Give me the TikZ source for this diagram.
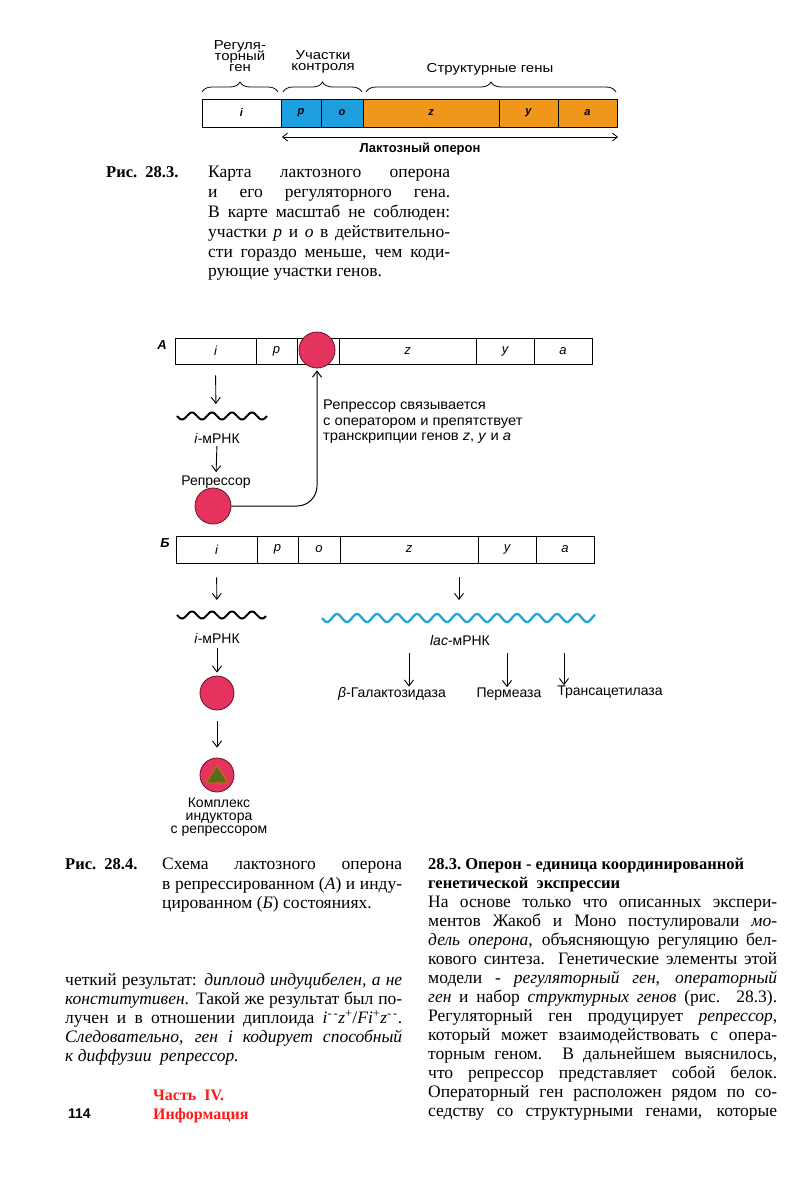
\documentclass[tikz,border=0pt]{standalone}
\usepackage{fontspec}
\setmainfont{Liberation Serif}
\setsansfont{Liberation Sans}
\newfontfamily\widesans[FakeStretch=1.05]{Liberation Sans}
\newfontfamily\midsans[FakeStretch=1.15]{Liberation Sans}
\usetikzlibrary{arrows.meta,decorations.pathreplacing}
\definecolor{opblue}{HTML}{1E9FE0}
\definecolor{oporange}{HTML}{F0961A}
\definecolor{repred}{HTML}{E4335F}
\definecolor{repedge}{HTML}{6A1025}
\definecolor{wblue}{HTML}{1EA5DC}
\definecolor{tgreen}{HTML}{566B1E}
\definecolor{tedge}{HTML}{C8641E}
\definecolor{partred}{HTML}{FF1A1A}
\newcommand\fsz[2]{\fontsize{#1}{#2}\selectfont}
\newcommand\jline[2]{\makebox[#1][s]{#2}}
\begin{document}
\begin{tikzpicture}[x=1pt,y=-1pt,
 seg/.style={draw=black,line width=0.9pt,inner sep=0pt,minimum height=#1},
 tlab/.style={font=\sffamily\bfseries\itshape\fsz{11}{12}},
 blab/.style={font=\sffamily\itshape\fsz{13}{15}},
 sfl/.style={font=\sffamily\fsz{14}{15},inner sep=0pt,anchor=base},
 sflw/.style={font=\widesans\fsz{14}{15},inner sep=0pt,anchor=base west},
 toplab/.style={font=\midsans\fsz{13}{12},inner sep=0pt,anchor=base},
 body/.style={font=\fsz{17.5}{19},inner sep=0pt,anchor=base west},
 bodyb/.style={font=\bfseries\fsz{16.5}{19},inner sep=0pt,anchor=base west},
 redc/.style={circle,draw=repedge,line width=0.8pt,fill=repred,minimum size=#1,inner sep=0pt},
 arr/.style={line width=0.9pt,-{Straight Barb[length=6pt,width=9pt]}},
 wave/.style={line width=2pt},
 brc/.style={decorate,decoration={brace,amplitude=10pt},line width=0.8pt},
]
\fill[white] (0,0) rectangle (803,1200);
\useasboundingbox (0,0) rectangle (803,1200);

% ---------- Fig 28.3 ----------
\node[toplab] (r1) at (240,49) {Регуля-};
\node[toplab] (r2) at (240,60) {торный};
\node[toplab] (r3) at (240,71) {ген};
\node[toplab] (u1) at (323,59) {Участки};
\node[toplab] (u2) at (323,70) {контроля};
\node[toplab] (s1) at (490,72) {Структурные гены};

\coordinate (b1l) at (202,92); \coordinate (b1r) at (278,92);
\coordinate (b2l) at (283,92); \coordinate (b2r) at (362,92);
\coordinate (b3l) at (366,92); \coordinate (b3r) at (616,92);
\draw[brc] (b1l) -- (b1r);
\draw[brc] (b2l) -- (b2r);
\draw[brc] (b3l) -- (b3r);

\node[seg=28,tlab,minimum width=79,fill=white] (ti) at (241.5,113) {i};
\node[seg=28,tlab,minimum width=40,fill=opblue] (tp) at (301,113) {p};
\node[seg=28,tlab,minimum width=42,fill=opblue] (to) at (342,113) {o};
\node[seg=28,tlab,minimum width=136,fill=oporange] (tz) at (431,113) {z};
\node[seg=28,tlab,minimum width=59,fill=oporange] (ty) at (528.5,113) {y};
\node[seg=28,tlab,minimum width=59,fill=oporange] (ta) at (587.5,113) {a};

\coordinate (la) at (282,137); \coordinate (lb) at (618,137);
\draw[line width=0.8pt,{Straight Barb[length=5pt,width=8pt]}-{Straight Barb[length=5pt,width=8pt]}] (la) -- (lb);
\node[font=\sffamily\bfseries\fsz{13}{14},inner sep=0pt,anchor=base] (lo) at (420,152.5) {Лактозный оперон};

\node[bodyb] (f3) at (106,177.5) {Рис.\ \ 28.3.};
\node[body] (c1) at (208,177.5) {\jline{242pt}{Карта лактозного оперона}};
\node[body] (c2) at (208,197.5) {\jline{242pt}{и его регуляторного гена.}};
\node[body] (c3) at (208,217.5) {\jline{242pt}{В карте масштаб не соблюден:}};
\node[body] (c4) at (208,237.5) {\jline{242pt}{участки \textit{p} и \textit{o} в действительно-}};
\node[body] (c5) at (208,257.5) {\jline{242pt}{сти гораздо меньше, чем коди-}};
\node[body] (c6) at (208,276.5) {рующие участки генов.};

% ---------- Fig 28.4 A ----------
\node[font=\sffamily\bfseries\itshape\fsz{13}{14},inner sep=0pt] (lA) at (162,345) {А};
\node[seg=26,blab,minimum width=81] (iA) at (215.5,351) {i};
\node[seg=26,blab,minimum width=41] (pA) at (276.5,351) {p};
\node[seg=26,blab,minimum width=42] (oA) at (318,351) {};
\node[seg=26,blab,minimum width=137] (zA) at (407.5,351) {z};
\node[seg=26,blab,minimum width=58] (yA) at (505,351) {y};
\node[seg=26,blab,minimum width=58] (aA) at (563,351) {a};
\node[redc=36] (opA) at (317,350) {};

\coordinate (wA) at (216,416);
\draw[arr,shorten <=11pt,shorten >=12pt] (iA.south) -- (wA);
\draw[wave] plot[domain=177:267,samples=120] (\x,{416+3.5*sin(18*(\x-177))});
\node[sfl] (imA) at (217,443) {\textit{i}-мРНК};
\node[sfl] (repL) at (216,485) {Репрессор};
\draw[arr,shorten <=3pt,shorten >=3pt] (imA.south) -- (repL.north);
\node[redc=36] (rep) at (213,506) {};
\draw[line width=1pt,-{Straight Barb[length=6pt,width=9pt]},rounded corners=20pt,shorten >=2pt] (rep.east) -| (opA.south);
\node[sflw] (ta1) at (323,409.5) {Репрессор связывается};
\node[sflw] (ta2) at (323,425.5) {с оператором и препятствует};
\node[sflw] (ta3) at (323,440.5) {транскрипции генов \textit{z}, \textit{y} и \textit{a}};

% ---------- Fig 28.4 B ----------
\node[font=\sffamily\bfseries\itshape\fsz{13}{14},inner sep=0pt] (lB) at (165,543) {Б};
\node[seg=27,blab,minimum width=81] (iB) at (216.5,549.5) {i};
\node[seg=27,blab,minimum width=41] (pB) at (277.5,549.5) {p};
\node[seg=27,blab,minimum width=42] (oB) at (319,549.5) {o};
\node[seg=27,blab,minimum width=138] (zB) at (409,549.5) {z};
\node[seg=27,blab,minimum width=58] (yB) at (507,549.5) {y};
\node[seg=27,blab,minimum width=58] (aB) at (565,549.5) {a};

\coordinate (wB) at (217,615);
\coordinate (lacw) at (459,618);
\draw[arr,shorten <=14pt,shorten >=15pt] (iB.south) -- (wB);
\draw[arr,shorten <=14pt,shorten >=18pt] (iB.south -| lacw) -- (lacw);
\draw[wave] plot[domain=177:266,samples=120] (\x,{615+3.5*sin(18*(\x-177))});
\draw[wave,wblue,line width=2.3pt] plot[domain=322:595,samples=300] (\x,{618+4*sin(18*(\x-322))});
\node[sfl] (imB) at (217,643) {\textit{i}-мРНК};
\node[sfl] (lacL) at (460,645) {\textit{lac}-мРНК};
\node[redc=34] (indR) at (217,693) {};
\draw[arr,shorten <=5pt,shorten >=3pt] (imB.south) -- (indR.north);
\node[redc=34] (cx) at (217,775) {};
\draw[arr,shorten <=11pt,shorten >=10pt] (indR.south) -- (cx.north);
\draw[tedge,line width=1.3pt,fill=tgreen,line join=round] ([shift={(0,-10)}]cx.center) -- ([shift={(-11,8)}]cx.center) -- ([shift={(11,8)}]cx.center) -- cycle;
\node[sfl] (k1) at (219,807.5) {Комплекс};
\node[sfl] (k2) at (219,820.5) {индуктора};
\node[sfl] (k3) at (219,833.5) {с репрессором};

\node[sfl] (beta) at (392,697) {\textit{β}-Галактозидаза};
\node[sfl] (perm) at (509,697) {Пермеаза};
\node[sfl] (trans) at (610,695) {Трансацетилаза};
\coordinate (e1) at (409,653); \coordinate (e2) at (507,653); \coordinate (e3) at (564,653);
\draw[arr] (e1) -- (e1 |- beta.north);
\draw[arr] (e2) -- (e2 |- perm.north);
\draw[arr] (e3) -- (e3 |- trans.north);

% ---------- Caption 28.4 ----------
\node[bodyb] (f4) at (65,869.5) {Рис.\ \ 28.4.};
\node[body] (d1) at (162,869.5) {\jline{240pt}{Схема лактозного оперона}};
\node[body] (d2) at (162,889.5) {\jline{240pt}{в репрессированном (\textit{А}) и инду-}};
\node[body] (d3) at (162,908.5) {цированном (\textit{Б}) состояниях.};

% ---------- Right column ----------
\node[bodyb] (h1) at (428,869.5) {28.3.\ Оперон - единица координированной};
\node[bodyb] (h2) at (428,888.5) {генетической\ \ экспрессии};
\node[body] (p1) at (428,907.5) {\jline{349pt}{На основе только что описанных экспери-}};
\node[body] (p2) at (428,926.5) {\jline{349pt}{ментов Жакоб и Моно постулировали \textit{мо-}}};
\node[body] (p3) at (428,945.5) {\jline{349pt}{\textit{дель оперона}, объясняющую регуляцию бел-}};
\node[body] (p4) at (428,964.5) {\jline{349pt}{кового синтеза. Генетические элементы этой}};
\node[body] (p5) at (428,983.5) {\jline{349pt}{модели - \textit{регуляторный ген}, \textit{операторный}}};
\node[body] (p6) at (428,1002.5) {\jline{349pt}{\textit{ген} и набор \textit{структурных генов} (рис. 28.3).}};
\node[body] (p7) at (428,1021.5) {\jline{349pt}{Регуляторный ген продуцирует \textit{репрессор},}};
\node[body] (p8) at (428,1040.5) {\jline{349pt}{который может взаимодействовать с опера-}};
\node[body] (p9) at (428,1059.5) {\jline{349pt}{торным геном. В дальнейшем выяснилось,}};
\node[body] (p10) at (428,1078.5) {\jline{349pt}{что репрессор представляет собой белок.}};
\node[body] (p11) at (428,1097.5) {\jline{349pt}{Операторный ген расположен рядом по со-}};
\node[body] (p12) at (428,1116.5) {\jline{349pt}{седству со структурными генами, которые}};

% ---------- Left column ----------
\node[body] (q1) at (65,985.5) {\jline{337pt}{четкий результат: \textit{диплоид индуцибелен, а не}}};
\node[body] (q2) at (65,1004.5) {\jline{337pt}{\textit{конститутивен}. Такой же результат был по-}};
\node[body] (q3) at (65,1023.5) {\jline{337pt}{лучен и в отношении диплоида \textit{i}\textsuperscript{-\,-}\textit{z}\textsuperscript{+}/\textit{Fi}\textsuperscript{+}\textit{z}\textsuperscript{-\,-}.}};
\node[body] (q4) at (65,1042.5) {\jline{337pt}{\textit{Следовательно, ген i кодирует способный}}};
\node[body] (q5) at (65,1061.5) {\textit{к диффузии\ \ репрессор.}};

\node[font=\sffamily\bfseries\fsz{14}{15},inner sep=0pt,anchor=base west] (pg) at (68,1118) {114};
\node[bodyb,text=partred,font=\bfseries\fsz{16}{19}] (pt1) at (153,1100.5) {Часть\ \ IV.};
\node[bodyb,text=partred,font=\bfseries\fsz{16}{19}] (pt2) at (153,1119.5) {Информация};
\end{tikzpicture}
\end{document}
